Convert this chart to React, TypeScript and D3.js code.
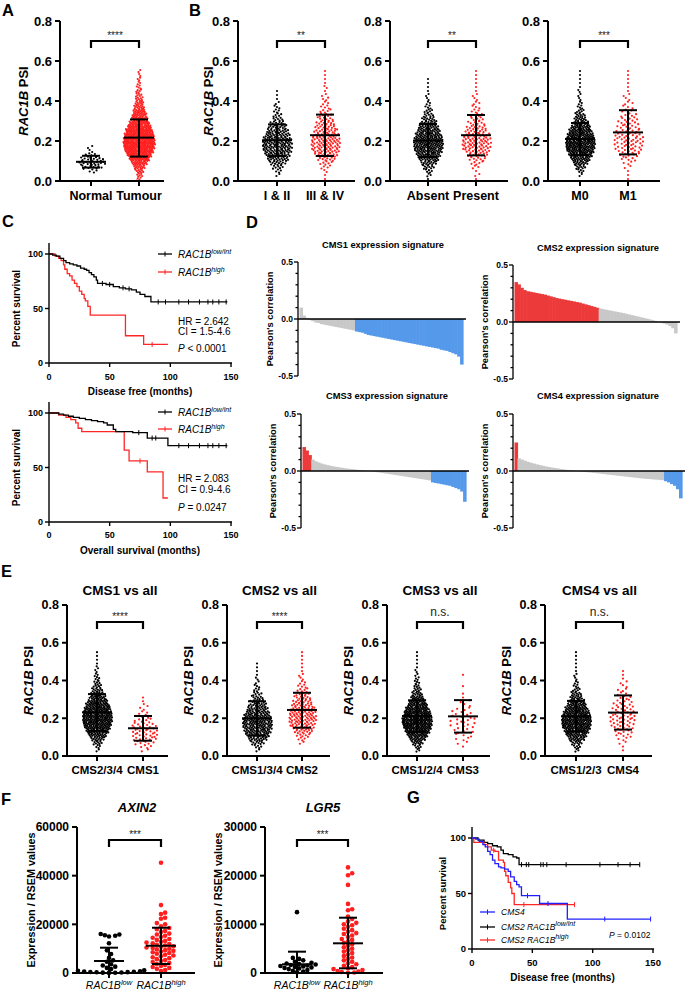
import React from 'react';
import * as d3 from 'd3';

const SANS = "'Liberation Sans', Arial, Helvetica, sans-serif";
const LETTER_FONT = "'Liberation Sans', Arial, sans-serif";
const RED = '#ff1f1f';
const D_RED = '#ec3a3a';
const D_BLUE = '#5599ea';
const D_GRAY = '#c8c8c8';
const KM_RED = '#ff2626';
const KM_BLUE = '#2020ff';

// ---------------- Data ----------------
const PSI_BIN = 0.02; // histogram bin width for PSI distributions
const PSI_TICKS = [0, 0.2, 0.4, 0.6, 0.8];

// Panel A
const A_CATS = ['Normal', 'Tumour'];
const A_HIST_NORMAL = [0, 0, 4, 10, 15, 12, 6, 2, 2];
const A_HIST_TUMOUR = [4, 6, 9, 14, 22, 32, 42, 52, 58, 62, 60, 55, 48, 40, 32, 25, 20, 16, 13, 10, 8, 6, 5, 4, 3, 3, 2, 2];
const A_STATS = [[0.096, 0.067, 0.126], [0.217, 0.122, 0.308]];
const A_SIG = '****';

// Panel B
const B_CATS = [['I & II', 'III & IV'], ['Absent', 'Present'], ['M0', 'M1']];
const B_HIST_STAGE_12 = [0, 2, 4, 7, 12, 18, 22, 26, 28, 28, 26, 22, 18, 14, 10, 7, 5, 4, 3, 2, 1, 1, 1];
const B_HIST_STAGE_34 = [1, 1, 2, 4, 6, 10, 14, 17, 18, 19, 18, 16, 14, 12, 10, 8, 6, 5, 4, 3, 3, 2, 1, 2, 1, 1, 1, 1];
const B_HIST_ABSENT = [1, 3, 5, 9, 14, 20, 26, 31, 34, 35, 33, 29, 25, 20, 15, 11, 8, 6, 4, 3, 2, 2, 1, 1, 1, 1];
const B_HIST_PRESENT = [1, 2, 1, 3, 5, 8, 11, 14, 16, 17, 16, 14, 12, 10, 8, 6, 5, 4, 3, 3, 2, 2, 1, 1, 1, 1, 1, 1];
const B_HIST_M0 = [0, 2, 5, 9, 15, 22, 30, 36, 40, 42, 40, 35, 29, 23, 17, 12, 9, 6, 4, 3, 2, 2, 2, 1, 1, 1, 1, 1];
const B_HIST_M1 = [1, 1, 1, 2, 3, 5, 7, 9, 10, 11, 11, 10, 9, 8, 7, 6, 5, 4, 3, 3, 2, 2, 1, 1, 1, 1, 1, 1];
const B_STATS = [
  [[0.204, 0.125, 0.283], [0.229, 0.125, 0.332]],
  [[0.202, 0.12, 0.285], [0.229, 0.128, 0.33]],
  [[0.21, 0.13, 0.29], [0.243, 0.133, 0.354]],
];
const B_SIG = ['**', '**', '***'];

// Panel C (Kaplan-Meier steps: [months, % survival])
const C_DFS_LOW = [[0, 100], [3, 99], [6, 98], [9, 96], [12, 94], [14, 92], [17, 91], [20, 90], [23, 89], [26, 87], [29, 86], [31, 85], [33, 83], [35, 81], [37, 79], [39, 76], [40, 73], [47, 72], [53, 70], [58, 69], [63, 68], [68, 67], [72, 65], [75, 63], [79, 61], [84, 56]];
const C_DFS_LOW_END = 147;
const C_DFS_LOW_CENSOR = [44, 50, 61, 66, 90, 96, 107, 115, 124, 131, 135, 140, 146];
const C_DFS_HIGH = [[0, 100], [5, 98], [8, 96], [10, 94], [12, 90], [13, 86], [15, 82], [17, 80], [19, 76], [21, 73], [23, 70], [25, 66], [27, 63], [29, 59], [30, 57], [32, 52], [34, 44], [63, 25], [78, 17]];
const C_DFS_HIGH_END = 98;
const C_DFS_HIGH_CENSOR = [85];
const C_DFS_STATS = ['HR = 2.642', 'CI = 1.5-4.6', ' < 0.0001'];

const C_OS_LOW = [[0, 100], [8, 99], [12, 98], [16, 97], [20, 96], [25, 95], [30, 94], [35, 93], [40, 92], [45, 91], [48, 89], [53, 85], [55, 83], [69, 82], [81, 77], [98, 70]];
const C_OS_LOW_END = 147;
const C_OS_LOW_CENSOR = [74, 85, 88, 107, 115, 124, 131, 135, 140, 146];
const C_OS_HIGH = [[0, 100], [8, 98], [14, 96], [18, 94], [22, 91], [24, 86], [27, 83], [62, 66], [66, 56], [81, 46], [94, 22]];
const C_OS_HIGH_END = 98;
const C_OS_HIGH_CENSOR = [75];
const C_OS_STATS = ['HR = 2.083', 'CI = 0.9-4.6', ' = 0.0247'];

// Panel D (sorted Pearson correlations, sampled along rank)
const D_TITLES = ['CMS1 expression signature', 'CMS2 expression signature', 'CMS3 expression signature', 'CMS4 expression signature'];
const D_CMS1 = [0.10, 0.03, 0.01, -0.01, -0.02, -0.03, -0.035, -0.045, -0.05, -0.055, -0.06, -0.065, -0.07, -0.075, -0.08, -0.085, -0.09, -0.095, -0.10,
  -0.11, -0.115, -0.12, -0.13, -0.14, -0.145, -0.15, -0.155, -0.16, -0.165, -0.17, -0.175, -0.18, -0.185, -0.19, -0.195, -0.2, -0.205, -0.21, -0.215,
  -0.22, -0.225, -0.23, -0.235, -0.24, -0.245, -0.25, -0.255, -0.26, -0.27, -0.275, -0.28, -0.29, -0.3, -0.31, -0.33, -0.40];
const D_CMS2 = [0.35, 0.33, 0.30, 0.28, 0.27, 0.265, 0.26, 0.255, 0.25, 0.245, 0.24, 0.232, 0.225, 0.218, 0.21, 0.205, 0.2, 0.195, 0.19, 0.185,
  0.18, 0.175, 0.17, 0.162, 0.155, 0.148, 0.14, 0.133, 0.125,
  0.118, 0.113, 0.108, 0.103, 0.098, 0.093, 0.088, 0.083, 0.078, 0.072, 0.066, 0.06, 0.054, 0.048, 0.042, 0.036, 0.03, 0.024, 0.017, 0.01, 0.003,
  -0.005, -0.013, -0.022, -0.035, -0.055, -0.1];
const D_CMS3 = [0.21, 0.18, 0.14,
  0.10, 0.085, 0.075, 0.065, 0.058, 0.052, 0.046, 0.041, 0.036, 0.032, 0.028, 0.024, 0.021, 0.018, 0.015, 0.012, 0.009, 0.006, 0.003, 0.0,
  -0.003, -0.006, -0.01, -0.014, -0.018, -0.022, -0.026, -0.03, -0.034, -0.038, -0.042, -0.046, -0.05, -0.054, -0.058, -0.062, -0.066, -0.07, -0.074, -0.078, -0.082,
  -0.1, -0.105, -0.11, -0.115, -0.12, -0.125, -0.13, -0.14, -0.15, -0.16, -0.18, -0.27];
const D_CMS4 = [0.25,
  0.11, 0.1, 0.09, 0.08, 0.072, 0.065, 0.058, 0.052, 0.046, 0.04, 0.035, 0.03, 0.026, 0.022, 0.018, 0.014, 0.01, 0.007, 0.004, 0.001,
  -0.002, -0.005, -0.008, -0.011, -0.014, -0.017, -0.02, -0.023, -0.026, -0.029, -0.032, -0.035, -0.038, -0.041, -0.044, -0.047, -0.05, -0.053, -0.056, -0.059,
  -0.062, -0.065, -0.068, -0.07, -0.072, -0.074, -0.076, -0.078, -0.08,
  -0.09, -0.1, -0.115, -0.13, -0.16, -0.24];
// number of highlighted samples [red at start, blue at end]
const D_HIGHLIGHT = [[0, 37], [29, 0], [3, 12], [1, 6]];

// Panel E
const E_TITLES = ['CMS1 vs all', 'CMS2 vs all', 'CMS3 vs all', 'CMS4 vs all'];
const E_CATS = [['CMS2/3/4', 'CMS1'], ['CMS1/3/4', 'CMS2'], ['CMS1/2/4', 'CMS3'], ['CMS1/2/3', 'CMS4']];
const E_HIST_REST1 = [0, 2, 4, 8, 13, 20, 28, 34, 38, 42, 42, 40, 35, 30, 24, 18, 13, 10, 7, 5, 4, 3, 2, 2, 1, 1, 1, 1];
const E_HIST_CMS1 = [0, 2, 4, 6, 8, 9, 9, 8, 7, 5, 4, 3, 2, 2, 1, 1];
const E_HIST_REST2 = [0, 2, 5, 10, 16, 22, 27, 30, 31, 30, 27, 23, 19, 15, 11, 8, 6, 4, 3, 2, 2, 1, 1, 1, 1];
const E_HIST_CMS2 = [0, 0, 0, 2, 4, 7, 11, 14, 16, 18, 18, 17, 15, 13, 11, 9, 7, 5, 4, 3, 2, 2, 1, 1, 1, 1, 1, 1];
const E_HIST_REST3 = [0, 3, 6, 11, 18, 26, 34, 40, 44, 45, 43, 38, 32, 25, 19, 14, 10, 7, 5, 4, 3, 2, 2, 1, 1, 1, 1, 1];
const E_HIST_CMS3 = [0, 0, 1, 2, 3, 3, 4, 4, 5, 5, 4, 4, 3, 2, 2, 1, 1, 0, 1, 0, 0, 1];
const E_HIST_REST4 = [0, 3, 6, 10, 17, 24, 31, 37, 40, 41, 39, 34, 28, 22, 17, 12, 9, 6, 4, 3, 2, 2, 1, 1, 1, 1, 1, 1];
const E_HIST_CMS4 = [0, 1, 1, 2, 3, 5, 6, 7, 8, 9, 9, 8, 7, 6, 5, 4, 3, 3, 2, 2, 1, 1, 1];
const E_STATS = [
  [[0.231, 0.133, 0.328], [0.147, 0.081, 0.212]],
  [[0.2, 0.108, 0.29], [0.244, 0.15, 0.335]],
  [[0.212, 0.128, 0.295], [0.21, 0.124, 0.296]],
  [[0.21, 0.13, 0.292], [0.23, 0.14, 0.321]],
];
const E_SIG = ['****', '****', 'n.s.', 'n.s.'];

// Panel F
const F_GENES = ['AXIN2', 'LGR5'];
const F_AXIN2_LOW = [16000, 15800, 15500, 15300, 15000, 12200, 9300, 7800, 6200, 5200, 4600, 3600, 3100, 2600, 2100, 1600, 1100, 900, 700, 600, 500, 400, 350, 300, 200, 150, 100, 50];
const F_AXIN2_HIGH = [45300, 27900, 24800, 24200, 22700, 22300, 20500, 20000, 19200, 18500, 18000, 17300, 16800, 16200, 15800, 15300, 14800, 14500, 14000, 13600, 13200, 12800, 12500, 12200, 11900, 11600, 11300, 11000, 10800, 10500, 10300, 10000, 9700, 9400, 9100, 8800, 8500, 8200, 7900, 7500, 7200, 6900, 6500, 6100, 5700, 5300, 4900, 4500, 4100, 3700, 3300, 2900, 2500, 2100, 1700, 1200, 800];
const F_LGR5_LOW = [12500, 3100, 2900, 2600, 2300, 2100, 1950, 1850, 1750, 1650, 1550, 1450, 1350, 1250, 1150, 1050, 950, 800, 600, 450, 300, 150];
const F_LGR5_HIGH = [21700, 20500, 20100, 18100, 14200, 13100, 12900, 11600, 11100, 10600, 10300, 10000, 9800, 9500, 9100, 8800, 8500, 8200, 8000, 7700, 7400, 7000, 6800, 6500, 6200, 5900, 5600, 5300, 5000, 4700, 4400, 4100, 3800, 3500, 3200, 2900, 2600, 2300, 2000, 1800, 1500, 1200, 1000, 800, 600, 400, 300, 200, 100, 50];
const F_STATS = [
  [[4930, -540, 10400], [11200, 3700, 18600]],
  [[1790, -800, 4380], [6100, 960, 11360]],
];
const F_TICKS = [[0, 20000, 40000, 60000], [0, 10000, 20000, 30000]];
const F_SIG = ['***', '***'];

// Panel G
const G_CMS4 = [[0, 100], [3, 99], [6, 97], [9, 94], [11, 92], [13, 88], [15, 85], [17, 80], [19, 77], [22, 74], [24, 73], [27, 72], [30, 70], [32, 65], [35, 61], [37, 58], [39, 56], [41, 48], [56, 41], [79, 27]];
const G_CMS4_END = 148;
const G_CMS4_CENSOR = [46, 63, 110, 148];
const G_LOW = [[0, 100], [5, 98], [10, 96], [13, 95], [17, 93], [21, 92], [24, 89], [26, 86], [30, 85], [34, 83], [37, 82], [39, 76]];
const G_LOW_END = 139;
const G_LOW_CENSOR = [41, 45, 47, 57, 59, 62, 78, 106, 121, 131, 139];
const G_HIGH = [[0, 100], [1.5, 96], [8, 96], [10, 94], [13, 92], [16, 89], [19, 88], [22, 80], [26, 78], [27, 70], [28, 66], [30, 60], [32, 55], [33, 50], [35, 40]];
const G_HIGH_END = 85;
const G_HIGH_CENSOR = [18, 43, 85];
const G_P = ' = 0.0102';

// ---------------- Layout helpers ----------------
type Pt = { dx: number; y: number };

function histPoints(hist: number[], scale: (v: number) => number, maxHW: number): Pt[] {
  const maxN = d3.max(hist) || 1;
  const out: Pt[] = [];
  hist.forEach((n, i) => {
    const hw = maxHW * Math.pow(n / maxN, 0.7);
    for (let j = 0; j < n; j++) {
      const v = (i + (j + 0.5) / n) * PSI_BIN;
      const u = (j * 0.6180339887 + i * 0.381966) % 1;
      out.push({ dx: n === 1 ? 0 : (u * 2 - 1) * hw, y: scale(v) });
    }
  });
  return out;
}

function swarmPoints(values: number[], scale: (v: number) => number, r: number): Pt[] {
  const placed: Pt[] = [];
  const sorted = [...values].sort((a, b) => a - b);
  sorted.forEach((v) => {
    const y = scale(v);
    let k = 0;
    for (;;) {
      const cand = k === 0 ? 0 : (k % 2 === 1 ? 1 : -1) * Math.ceil(k / 2) * r * 0.9;
      if (placed.every((p) => Math.hypot(p.dx - cand, p.y - y) >= 2 * r * 0.92)) {
        placed.push({ dx: cand, y });
        break;
      }
      k++;
    }
  });
  return placed;
}

function DotPlot({ axisX, endX, scale, ticks, fmt, groups, sig, bracketY, xlabelY, xFs, ylabel, ylabelX, ylabelFs, r, tickFs, title, titleX, titleY, titleFs, titleItalic }: any) {
  const [y0, yTop] = scale.range();
  const ns = sig === 'n.s.';
  const [ga, gb] = groups;
  return (
    <g>
      {title && (
        <text x={titleX} y={titleY} textAnchor="middle" fontSize={titleFs} fontWeight="bold" fontStyle={titleItalic ? 'italic' : 'normal'}>{title}</text>
      )}
      {groups.map((g: any, gi: number) => (
        <g key={'d' + gi} fill={g.color}>
          {g.points.map((p: Pt, i: number) => <circle key={i} cx={g.x + p.dx} cy={p.y} r={r} />)}
        </g>
      ))}
      {groups.map((g: any, gi: number) => {
        const [m, lo, hi] = g.stats;
        const yl = scale(Math.max(lo, 0));
        return (
          <g key={'s' + gi} stroke="#000" strokeWidth={2} fill="none">
            <line x1={g.x - 15} x2={g.x + 15} y1={scale(m)} y2={scale(m)} />
            <line x1={g.x} x2={g.x} y1={yl} y2={scale(hi)} />
            <line x1={g.x - 9} x2={g.x + 9} y1={scale(hi)} y2={scale(hi)} />
            {lo > 0 && <line x1={g.x - 9} x2={g.x + 9} y1={yl} y2={yl} />}
          </g>
        );
      })}
      <g stroke="#000" strokeWidth={2} fill="none">
        <line x1={axisX} x2={axisX} y1={y0 + 1} y2={yTop} />
        <line x1={axisX - 1} x2={endX} y1={y0} y2={y0} />
        {ticks.map((t: number) => <line key={t} x1={axisX - 5} x2={axisX} y1={scale(t)} y2={scale(t)} />)}
        {groups.map((g: any, gi: number) => <line key={gi} x1={g.x} x2={g.x} y1={y0} y2={y0 + 5} />)}
        <path d={`M${ga.x},${bracketY + 7}V${bracketY}H${gb.x}V${bracketY + 7}`} strokeWidth={2.2} />
      </g>
      <g fontSize={tickFs} fontWeight="bold" textAnchor="end">
        {ticks.map((t: number) => <text key={t} x={axisX - 8} y={scale(t)} dy="0.35em">{fmt(t)}</text>)}
      </g>
      <text x={(ga.x + gb.x) / 2} y={ns ? bracketY - 6 : bracketY - 2} textAnchor="middle" fontSize={ns ? 12 : 10} fill="#222">{sig}</text>
      {groups.map((g: any, gi: number) => (
        <text key={'l' + gi} x={g.x} y={xlabelY} textAnchor="middle" fontSize={xFs} fontWeight={g.labelWeight || 'bold'}>{g.label}</text>
      ))}
      {ylabel && (
        <text transform={`translate(${ylabelX},${(y0 + yTop) / 2}) rotate(-90)`} dy="0.35em" textAnchor="middle" fontSize={ylabelFs} fontWeight="bold">{ylabel}</text>
      )}
    </g>
  );
}

function survAt(steps: number[][], t: number) {
  let s = steps[0][1];
  for (const [tt, ss] of steps) if (tt <= t) s = ss;
  return s;
}

function KMPlot({ xs, ys, curves, tickFs, xlabel, xlabelY, xlabelFs, ylabelX, ylabelFs, tickLabelY }: any) {
  const line = d3.line<number[]>().x((d) => xs(d[0])).y((d) => ys(d[1])).curve(d3.curveStepAfter);
  const [x0, x1] = xs.range();
  const y0 = ys(0);
  const yTop = ys(110);
  const xTicks = [0, 50, 100, 150];
  const yTicks = [0, 50, 100];
  return (
    <g>
      <g stroke="#000" strokeWidth={1.4} fill="none">
        <line x1={x0} x2={x0} y1={y0} y2={yTop} />
        <line x1={x0} x2={x1 + 1} y1={y0} y2={y0} />
        {yTicks.map((t) => <line key={t} x1={x0 - 4} x2={x0} y1={ys(t)} y2={ys(t)} />)}
        {xTicks.map((t) => <line key={t} x1={xs(t)} x2={xs(t)} y1={y0} y2={y0 + 4} />)}
      </g>
      {curves.map((c: any, k: number) => {
        const pts = [...c.steps, [c.end, c.steps[c.steps.length - 1][1]]];
        return (
          <g key={k}>
            <path d={line(pts) || ''} fill="none" stroke={c.color} strokeWidth={1.3} />
            {c.censor.map((t: number, i: number) => {
              const yy = ys(survAt(c.steps, t));
              return <line key={i} x1={xs(t)} x2={xs(t)} y1={yy - 2.5} y2={yy + 2.5} stroke={c.color} strokeWidth={1} />;
            })}
          </g>
        );
      })}
      <g fontSize={tickFs} fontWeight="bold">
        {yTicks.map((t) => <text key={t} x={x0 - 6} y={ys(t)} dy="0.35em" textAnchor="end">{t}</text>)}
        {xTicks.map((t) => <text key={t} x={xs(t)} y={tickLabelY} textAnchor="middle">{t}</text>)}
      </g>
      <text x={(x0 + x1) / 2} y={xlabelY} textAnchor="middle" fontSize={xlabelFs} fontWeight="bold">{xlabel}</text>
      <text transform={`translate(${ylabelX},${ys(50)}) rotate(-90)`} dy="0.35em" textAnchor="middle" fontSize={ylabelFs} fontWeight="bold">Percent survival</text>
    </g>
  );
}

function LegendItem({ x, y, color, len, fs, children }: any) {
  return (
    <g>
      <line x1={x} x2={x + len} y1={y} y2={y} stroke={color} strokeWidth={1.3} />
      <line x1={x + len / 2} x2={x + len / 2} y1={y - 2.5} y2={y + 2.5} stroke={color} strokeWidth={1} />
      <text x={x + len + 6} y={y} dy="0.35em" fontSize={fs} fontStyle="italic">{children}</text>
    </g>
  );
}

function Waterfall({ axisX, endX, y0, values, hl, title, titleX, titleY, ylabelX }: any) {
  const ys = d3.scaleLinear().domain([-0.5, 0.5]).range([y0 + 57, y0 - 57]);
  const n = values.length;
  const xb = d3.scaleBand<number>().domain(d3.range(n)).range([axisX + 1.5, endX]).paddingInner(0);
  const color = (i: number) => (i < hl[0] ? D_RED : i >= n - hl[1] ? D_BLUE : D_GRAY);
  const minor = d3.range(-5, 6).map((k) => k / 10);
  return (
    <g>
      <text x={titleX} y={titleY} textAnchor="middle" fontSize={9.3} fontWeight="bold">{title}</text>
      {values.map((v: number, i: number) => (
        <rect key={i} x={xb(i)} width={xb.bandwidth() + 0.6} y={Math.min(ys(v), ys(0))} height={Math.abs(ys(v) - ys(0))} fill={color(i)} />
      ))}
      <g stroke="#000" strokeWidth={1.3}>
        <line x1={axisX} x2={axisX} y1={ys(-0.5)} y2={ys(0.5)} />
        {minor.map((t) => (
          <line key={t} x1={axisX - (Math.abs(t * 2) % 1 === 0 ? 4 : 2.5)} x2={axisX} y1={ys(t)} y2={ys(t)} />
        ))}
        <line x1={axisX} x2={endX + 3} y1={ys(0)} y2={ys(0)} strokeWidth={1.6} />
      </g>
      <g fontSize={8.5} fontWeight="bold" textAnchor="end">
        {[-0.5, 0, 0.5].map((t) => (
          <text key={t} x={axisX - 5} y={ys(t)} dy="0.35em">{t.toFixed(1)}</text>
        ))}
      </g>
      <text transform={`translate(${ylabelX},${y0}) rotate(-90)`} dy="0.35em" textAnchor="middle" fontSize={9.3} fontWeight="bold">Pearson's correlation</text>
    </g>
  );
}

const Letter = ({ x, y, t }: any) => (
  <text x={x} y={y} fontSize={16.5} fontWeight="bold" fontFamily={LETTER_FONT}>{t}</text>
);

export default function App() {
  const f1 = d3.format('.1f');
  const fInt = d3.format('d');
  const psiTop = d3.scaleLinear().domain([0, 0.8]).range([181, 21]);
  const psiE = d3.scaleLinear().domain([0, 0.8]).range([756, 605]);
  const psiLabel = (
    <>
      <tspan fontStyle="italic">RAC1B</tspan> PSI
    </>
  );
  const DOT_R = 1.1;

  // Panel A
  const aGroups = [
    { x: 91, label: A_CATS[0], color: '#000', stats: A_STATS[0], points: histPoints(A_HIST_NORMAL, psiTop, 14) },
    { x: 139, label: A_CATS[1], color: RED, stats: A_STATS[1], points: histPoints(A_HIST_TUMOUR, psiTop, 16) },
  ];

  // Panel B
  const B_HISTS = [[B_HIST_STAGE_12, B_HIST_STAGE_34], [B_HIST_ABSENT, B_HIST_PRESENT], [B_HIST_M0, B_HIST_M1]];
  const B_AXIS = [238, 390, 548];
  const B_END = [355, 508, 660];
  const B_GX = [[277, 325], [428, 476], [580, 628]];

  // Panel E
  const E_HISTS = [[E_HIST_REST1, E_HIST_CMS1], [E_HIST_REST2, E_HIST_CMS2], [E_HIST_REST3, E_HIST_CMS3], [E_HIST_REST4, E_HIST_CMS4]];
  const E_AXIS = [67, 227, 387, 545];
  const E_END = [168, 330, 490, 652];
  const E_GX = [[97, 143], [257, 302], [417, 463], [576, 623]];

  // Panel F
  const F_VALUES = [[F_AXIN2_LOW, F_AXIN2_HIGH], [F_LGR5_LOW, F_LGR5_HIGH]];
  const F_AXIS = [77, 265];
  const F_END = [195, 383];
  const F_GX = [[109, 161], [297, 348]];
  const F_TITLE_X = [137, 323];
  const F_YLABEL_X = [31, 218];
  const fScales = [
    d3.scaleLinear().domain([0, 60000]).range([973, 827]),
    d3.scaleLinear().domain([0, 30000]).range([973, 827]),
  ];
  const fLabel = (sup: string) => (
    <>
      <tspan fontStyle="italic">RAC1B</tspan>
      <tspan fontStyle="italic" fontSize={7.5} dy={-4.5}>{sup}</tspan>
    </>
  );

  // KM scales
  const xsC = d3.scaleLinear().domain([0, 150]).range([49, 231]);
  const ysDFS = d3.scaleLinear().domain([0, 100]).range([363, 254]);
  const ysOS = d3.scaleLinear().domain([0, 100]).range([522, 413]);
  const xsG = d3.scaleLinear().domain([0, 150]).range([472, 653]);
  const ysG = d3.scaleLinear().domain([0, 100]).range([949, 838]);

  const cSup = (sup: string) => (
    <>
      RAC1B<tspan fontSize={7} dy={-4}>{sup}</tspan>
    </>
  );

  return (
    <svg width={685} height={991} style={{ position: 'absolute', left: 0, top: 0 }} fontFamily={SANS}>
      <rect width={685} height={991} fill="#fff" />

      {/* Panel letters */}
      <Letter x={2} y={16} t="A" />
      <Letter x={189} y={16} t="B" />
      <Letter x={2} y={227} t="C" />
      <Letter x={246} y={228} t="D" />
      <Letter x={1} y={577} t="E" />
      <Letter x={1} y={805} t="F" />
      <Letter x={407} y={803} t="G" />

      {/* Panel A */}
      <DotPlot axisX={60} endX={164} scale={psiTop} ticks={PSI_TICKS} fmt={f1} groups={aGroups} sig={A_SIG} bracketY={41}
        xlabelY={200} xFs={12.5} ylabel={psiLabel} ylabelX={23} ylabelFs={13} r={DOT_R} tickFs={13} />

      {/* Panel B */}
      {B_CATS.map((cats, k) => (
        <DotPlot key={'b' + k} axisX={B_AXIS[k]} endX={B_END[k]} scale={psiTop} ticks={PSI_TICKS} fmt={f1}
          groups={[
            { x: B_GX[k][0], label: cats[0], color: '#000', stats: B_STATS[k][0], points: histPoints(B_HISTS[k][0], psiTop, 15) },
            { x: B_GX[k][1], label: cats[1], color: RED, stats: B_STATS[k][1], points: histPoints(B_HISTS[k][1], psiTop, 15) },
          ]}
          sig={B_SIG[k]} bracketY={41} xlabelY={200} xFs={12.5} ylabel={k === 0 ? psiLabel : null} ylabelX={208} ylabelFs={13}
          r={DOT_R} tickFs={13} />
      ))}

      {/* Panel C */}
      <KMPlot xs={xsC} ys={ysDFS} tickFs={9} tickLabelY={380} xlabel="Disease free (months)" xlabelY={395} xlabelFs={10} ylabelX={16} ylabelFs={10}
        curves={[
          { steps: C_DFS_HIGH, end: C_DFS_HIGH_END, censor: C_DFS_HIGH_CENSOR, color: KM_RED },
          { steps: C_DFS_LOW, end: C_DFS_LOW_END, censor: C_DFS_LOW_CENSOR, color: '#000' },
        ]} />
      <LegendItem x={158} y={254} len={14} fs={10} color="#000">{cSup('low/int')}</LegendItem>
      <LegendItem x={158} y={272} len={14} fs={10} color={KM_RED}>{cSup('high')}</LegendItem>
      <g fontSize={10}>
        <text x={178} y={325}>{C_DFS_STATS[0]}</text>
        <text x={178} y={335}>{C_DFS_STATS[1]}</text>
        <text x={178} y={352}><tspan fontStyle="italic">P</tspan>{C_DFS_STATS[2]}</text>
      </g>

      <KMPlot xs={xsC} ys={ysOS} tickFs={9} tickLabelY={538} xlabel="Overall survival (months)" xlabelY={554} xlabelFs={10} ylabelX={16} ylabelFs={10}
        curves={[
          { steps: C_OS_HIGH, end: C_OS_HIGH_END, censor: C_OS_HIGH_CENSOR, color: KM_RED },
          { steps: C_OS_LOW, end: C_OS_LOW_END, censor: C_OS_LOW_CENSOR, color: '#000' },
        ]} />
      <LegendItem x={158} y={412} len={14} fs={10} color="#000">{cSup('low/int')}</LegendItem>
      <LegendItem x={158} y={429} len={14} fs={10} color={KM_RED}>{cSup('high')}</LegendItem>
      <g fontSize={10}>
        <text x={178} y={482}>{C_OS_STATS[0]}</text>
        <text x={178} y={493}>{C_OS_STATS[1]}</text>
        <text x={178} y={511}><tspan fontStyle="italic">P</tspan>{C_OS_STATS[2]}</text>
      </g>

      {/* Panel D */}
      <Waterfall axisX={298} endX={463} y0={319} values={D_CMS1} hl={D_HIGHLIGHT[0]} title={D_TITLES[0]} titleX={383} titleY={248} ylabelX={270} />
      <Waterfall axisX={513} endX={677} y0={322} values={D_CMS2} hl={D_HIGHLIGHT[1]} title={D_TITLES[1]} titleX={598} titleY={251} ylabelX={485} />
      <Waterfall axisX={301} endX={466} y0={471} values={D_CMS3} hl={D_HIGHLIGHT[2]} title={D_TITLES[2]} titleX={387} titleY={399} ylabelX={273} />
      <Waterfall axisX={513} endX={682} y0={471} values={D_CMS4} hl={D_HIGHLIGHT[3]} title={D_TITLES[3]} titleX={598} titleY={399} ylabelX={485} />

      {/* Panel E */}
      {E_CATS.map((cats, k) => (
        <DotPlot key={'e' + k} axisX={E_AXIS[k]} endX={E_END[k]} scale={psiE} ticks={PSI_TICKS} fmt={f1}
          groups={[
            { x: E_GX[k][0], label: cats[0], color: '#000', stats: E_STATS[k][0], points: histPoints(E_HISTS[k][0], psiE, 15) },
            { x: E_GX[k][1], label: cats[1], color: RED, stats: E_STATS[k][1], points: histPoints(E_HISTS[k][1], psiE, 14) },
          ]}
          sig={E_SIG[k]} bracketY={622} xlabelY={774} xFs={11.5} ylabel={psiLabel} ylabelX={E_AXIS[k] - 39} ylabelFs={13}
          r={DOT_R} tickFs={12.5} title={E_TITLES[k]} titleX={(E_GX[k][0] + E_GX[k][1]) / 2} titleY={595} titleFs={13.5} />
      ))}

      {/* Panel F */}
      {F_GENES.map((gene, k) => (
        <DotPlot key={'f' + k} axisX={F_AXIS[k]} endX={F_END[k]} scale={fScales[k]} ticks={F_TICKS[k]} fmt={fInt}
          groups={[
            { x: F_GX[k][0], label: fLabel('low'), labelWeight: 'normal', color: '#000', stats: F_STATS[k][0], points: swarmPoints(F_VALUES[k][0], fScales[k], 2.3) },
            { x: F_GX[k][1], label: fLabel('high'), labelWeight: 'normal', color: RED, stats: F_STATS[k][1], points: swarmPoints(F_VALUES[k][1], fScales[k], 2.3) },
          ]}
          sig={F_SIG[k]} bracketY={840} xlabelY={989} xFs={10.5} ylabel="Expression / RSEM values" ylabelX={F_YLABEL_X[k]} ylabelFs={10.8}
          r={2.3} tickFs={12} title={gene} titleX={F_TITLE_X[k]} titleY={812} titleFs={13} titleItalic />
      ))}

      {/* Panel G */}
      <KMPlot xs={xsG} ys={ysG} tickFs={9.5} tickLabelY={966} xlabel="Disease free (months)" xlabelY={981} xlabelFs={10} ylabelX={443} ylabelFs={9.5}
        curves={[
          { steps: G_LOW, end: G_LOW_END, censor: G_LOW_CENSOR, color: '#000' },
          { steps: G_HIGH, end: G_HIGH_END, censor: G_HIGH_CENSOR, color: KM_RED },
          { steps: G_CMS4, end: G_CMS4_END, censor: G_CMS4_CENSOR, color: KM_BLUE },
        ]} />
      <LegendItem x={480} y={912} len={15} fs={8.5} color={KM_BLUE}>CMS4</LegendItem>
      <LegendItem x={480} y={927} len={15} fs={8.5} color="#000">CMS2 {cSup('low/int')}</LegendItem>
      <LegendItem x={480} y={940} len={15} fs={8.5} color={KM_RED}>CMS2 {cSup('high')}</LegendItem>
      <text x={609} y={938} fontSize={8.5}><tspan fontStyle="italic">P</tspan>{G_P}</text>
    </svg>
  );
}
